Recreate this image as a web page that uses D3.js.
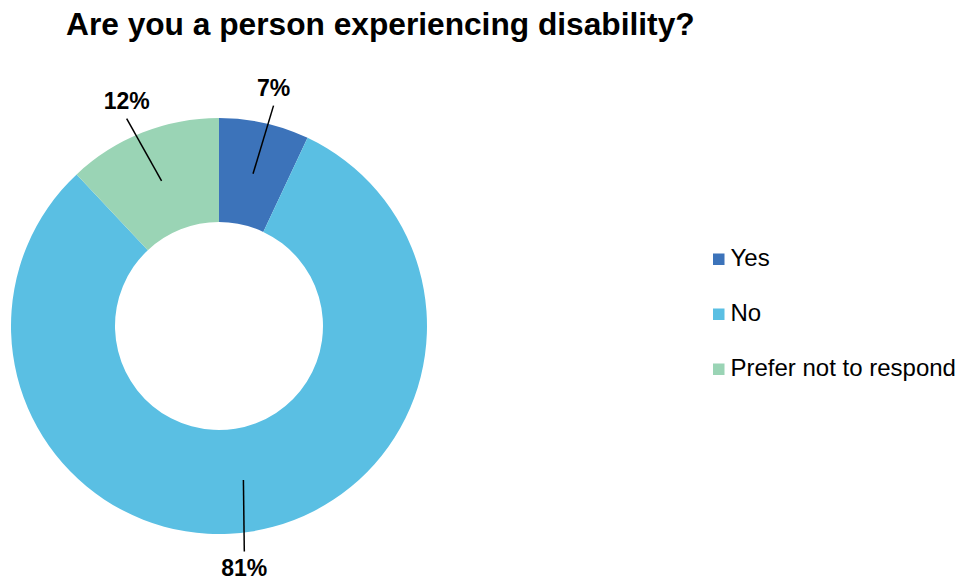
<!DOCTYPE html>
<html>
<head>
<meta charset="utf-8">
<script src="https://cdn.jsdelivr.net/npm/d3@7"></script>
<style>
  html, body { margin: 0; padding: 0; background: #fff; }
  svg { display: block; }
  text { font-family: "Liberation Sans", Arial, sans-serif; }
</style>
</head>
<body>
<svg id="chart" width="959" height="583"></svg>
<script>
// Survey responses (percent of respondents)
const categories = ["Yes", "No", "Prefer not to respond"];
const values = [7, 81, 12];
const colors = ["#3C73BA", "#5ABFE3", "#9AD4B5"];
const title = "Are you a person experiencing disability?";

// Angular nudge (degrees) applied to each leader line end
const labelNudge = [1.3, 2.6, -2.4];

const svg = d3.select("#chart");
const cx = 219, cy = 326, outerR = 208, innerR = 104;

// Title, sized to span the header width
const t = svg.append("text")
  .attr("x", 66).attr("y", 35)
  .attr("font-weight", "bold")
  .attr("font-size", 28)
  .attr("fill", "#000")
  .text(title);
const tw = t.node().getComputedTextLength();
t.attr("font-size", 28 * 629 / tw);

const pie = d3.pie().sort(null).value(d => d)(values);
const arc = d3.arc().innerRadius(innerR).outerRadius(outerR);

const g = svg.append("g").attr("transform", `translate(${cx},${cy})`);

g.selectAll("path.slice")
  .data(pie)
  .join("path")
  .attr("class", "slice")
  .attr("d", arc)
  .attr("fill", (d, i) => colors[i]);

// Leader lines and value labels
const polar = (a, r) => [Math.sin(a) * r, -Math.cos(a) * r];
pie.forEach((d, i) => {
  const mid = (d.startAngle + d.endAngle) / 2;
  const start = arc.centroid(d);
  const endA = mid + labelNudge[i] * Math.PI / 180;
  const end = polar(endA, 227);
  g.append("line")
    .attr("x1", start[0]).attr("y1", start[1])
    .attr("x2", end[0]).attr("y2", end[1])
    .attr("stroke", "#000").attr("stroke-width", 1.5);
  const above = Math.cos(endA) > 0;
  g.append("text")
    .attr("x", end[0])
    .attr("y", above ? end[1] - 9.5 : end[1] + 24.5)
    .attr("text-anchor", "middle")
    .attr("font-weight", "bold")
    .attr("font-size", 23)
    .attr("fill", "#000")
    .text(d3.format(".0f")(d.data) + "%");
});

// Legend
const legend = svg.append("g");
categories.forEach((c, i) => {
  const y = 266 + i * 55;
  legend.append("rect")
    .attr("x", 713).attr("y", y - 12.5)
    .attr("width", 11.5).attr("height", 11.5)
    .attr("fill", colors[i]);
  legend.append("text")
    .attr("x", 730.5).attr("y", y)
    .attr("font-size", 24)
    .attr("fill", "#000")
    .text(c);
});
</script>
</body>
</html>
